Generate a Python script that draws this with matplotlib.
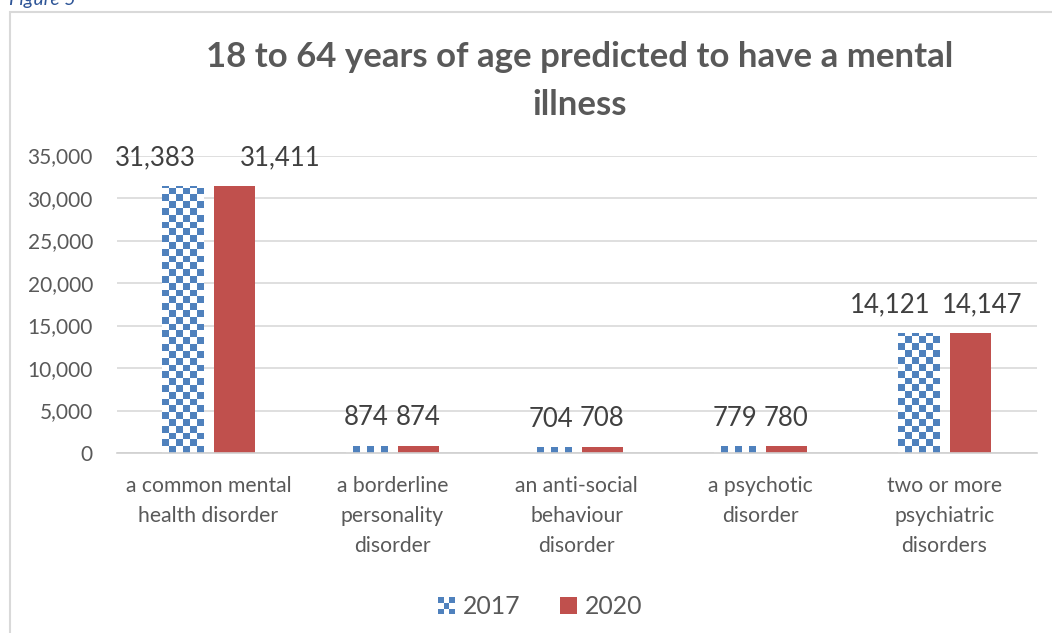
import numpy as np
import matplotlib
matplotlib.use('Agg')
import matplotlib.pyplot as plt
from matplotlib.colors import ListedColormap
from matplotlib.patches import Rectangle
from matplotlib.legend_handler import HandlerBase

# data
categories = ['a common mental\nhealth disorder',
              'a borderline\npersonality\ndisorder',
              'an anti-social\nbehaviour\ndisorder',
              'a psychotic\ndisorder',
              'two or more\npsychiatric\ndisorders']
values_2017 = [31383, 874, 704, 779, 14121]
values_2020 = [31411, 874, 708, 780, 14147]
series_names = ['2017', '2020']
title = '18 to 64 years of age predicted to have a mental\nillness'

BLUE = '#4f81bd'
RED = '#c0504d'
GREY = '#595959'

# label nudges in pixels (Excel moved the wide labels apart)
dx_2017 = [-27, 0, 0, 0, -28.5]
dx_2020 = [45.5, 0, 0, 0, 11.5]

plt.rcParams['font.family'] = ['Lato', 'DejaVu Sans']

W, H = 1052, 633
fig = plt.figure(figsize=(W / 100, H / 100), dpi=100)
ax = fig.add_axes([116.5 / W, 180 / H, 920 / W, 297.5 / H])

x = np.arange(len(categories))
w = 0.223
off = 0.141
ymax = 35000

bars17 = ax.bar(x - off, values_2017, w, color='none', edgecolor='none', zorder=2)
bars20 = ax.bar(x + off, values_2020, w, color=RED, edgecolor='none', zorder=2)

# checkerboard fill for the 2017 bars
checker_cmap = ListedColormap(['white', BLUE])
cell_y = 6.8 * ymax / 297.5
for b in bars17:
    x0 = b.get_x()
    ny = int(np.ceil(b.get_height() / cell_y)) + 1
    arr = np.add.outer(np.arange(ny), np.arange(6)) % 2
    im = ax.imshow(arr[::-1], cmap=checker_cmap, vmin=0, vmax=1,
                   extent=(x0, x0 + w, 0, ny * cell_y), aspect='auto',
                   interpolation='nearest', zorder=2)
    im.set_clip_path(b)

ax.set_xlim(-0.5, len(categories) - 0.5)
ax.set_ylim(0, ymax)
ax.set_yticks(np.arange(0, ymax + 1, 5000))
ax.yaxis.set_major_formatter(plt.FuncFormatter(lambda v, p: f'{v:,.0f}'))
ax.set_xticks(x)
ax.set_xticklabels(categories, linespacing=1.62, color=GREY, fontsize=15.2)
ax.tick_params(axis='y', length=0, pad=17, labelsize=15, labelcolor=GREY)
ax.tick_params(axis='x', length=0, pad=16.5)
ax.yaxis.grid(True, color='#d9d9d9', lw=1.2)
ax.set_axisbelow(True)
for s in ['left', 'right', 'top']:
    ax.spines[s].set_visible(False)
ax.spines['bottom'].set_color('#d0d0d0')
ax.spines['bottom'].set_linewidth(1.2)

# data labels
for bars, vals, dxs in [(bars17, values_2017, dx_2017), (bars20, values_2020, dx_2020)]:
    for b, v, dx in zip(bars, vals, dxs):
        ax.annotate(f'{v:,}', xy=(b.get_x() + b.get_width() / 2, v),
                    xytext=(dx * 0.72, 28 * 0.72), textcoords='offset points',
                    ha='center', va='center', fontsize=18.5, color='#404040')

# title
fig.text(580 / W, 1 - 81 / H, title, ha='center', va='center',
         fontsize=25, fontweight='bold', color=GREY, linespacing=1.62)


class CheckerHandler(HandlerBase):
    def create_artists(self, legend, orig_handle, xdescent, ydescent,
                       width, height, fontsize, trans):
        s = min(width, height)
        x0 = -xdescent + (width - s) / 2
        y0 = -ydescent + (height - s) / 2
        c = s / 3
        arts = []
        for i in range(3):
            for j in range(3):
                if (i + j) % 2 == 0:
                    arts.append(Rectangle((x0 + j * c, y0 + i * c), c, c,
                                          facecolor=BLUE, edgecolor='none',
                                          transform=trans))
        return arts


h17 = Rectangle((0, 0), 1, 1, facecolor=BLUE)
h20 = Rectangle((0, 0), 1, 1, facecolor=RED, edgecolor='none')
fig.legend([h17, h20], series_names, loc='center',
           bbox_to_anchor=(540 / W, 1 - 607 / H), ncol=2, frameon=False,
           fontsize=17.9, labelcolor=GREY, handlelength=0.69, handleheight=0.69,
           handletextpad=0.32, columnspacing=1.57,
           handler_map={h17: CheckerHandler()})

# chart border and clipped caption
fig.add_artist(Rectangle((10 / W, -0.1), 1.0, 1.1 - 12 / H, fill=False,
                         edgecolor='#d9d9d9', lw=1.5, transform=fig.transFigure))
fig.text(9 / W, 1 - 5 / H, 'Figure 5', style='italic', color='#2e5597',
         fontsize=14, va='baseline')

fig.savefig('out.png', dpi=100)
